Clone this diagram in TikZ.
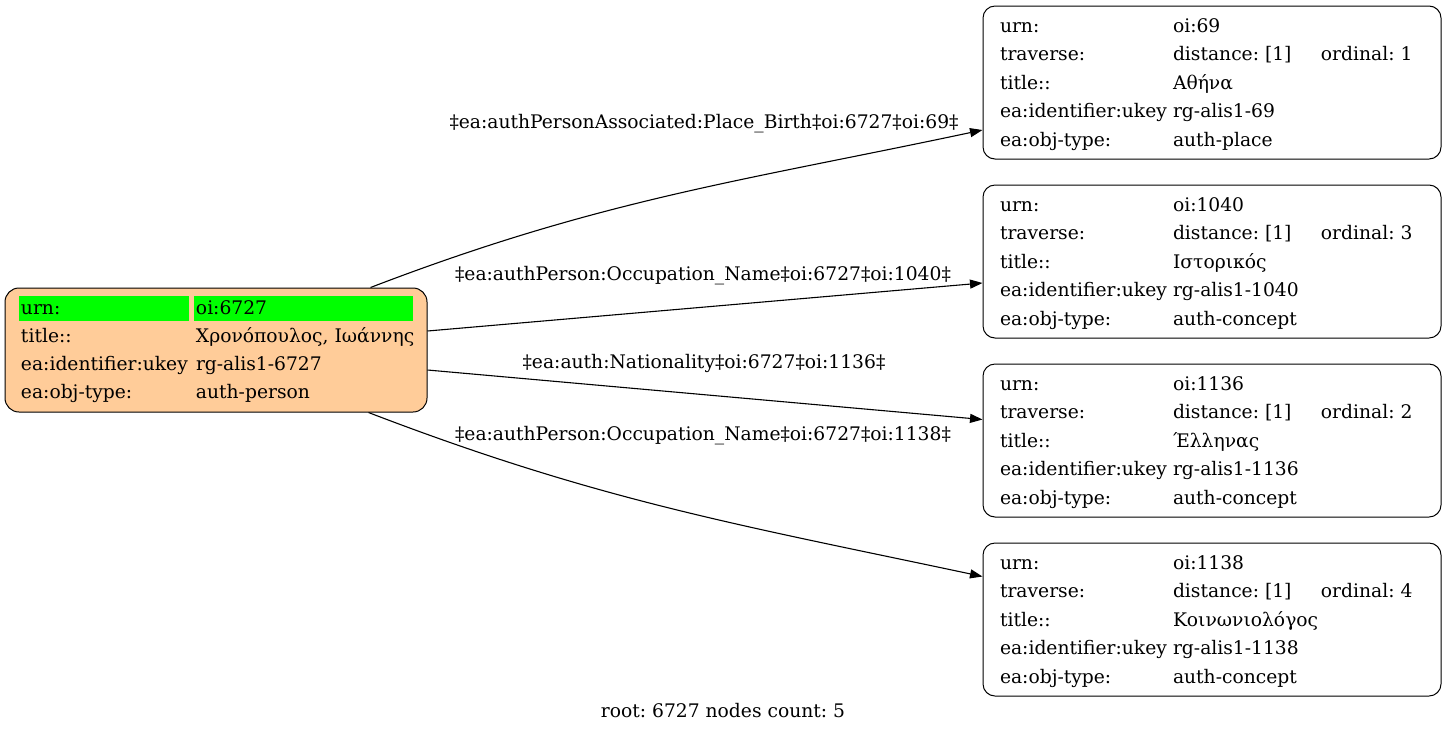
\documentclass[tikz,border=0pt]{standalone}
\usepackage{fontspec}
\setmainfont{DejaVu Serif}
\usepackage{array}
\usetikzlibrary{positioning,arrows.meta}
\frenchspacing

\definecolor{peach}{HTML}{FFCC99}
\definecolor{urngreen}{HTML}{00FF00}

\newcommand{\gvfont}{\fontsize{18.7pt}{22pt}\selectfont}
\newcommand{\rootstrut}{\rule[-7.2pt]{0pt}{28pt}}
\newcommand{\objstrut}{\rule[-7.4pt]{0pt}{28.4pt}}
\newcommand{\rootkey}[1]{\makebox[170pt][l]{\hspace{2pt}#1}}
\newcommand{\rootval}[1]{\makebox[219pt][l]{\hspace{2pt}#1}}
\newcommand{\greencell}[2]{{\setlength{\fboxsep}{0pt}\colorbox{urngreen}{\rule[-6pt]{0pt}{25pt}\makebox[#1][l]{\hspace{2pt}#2}}}}

% linked object table: urn number, ordinal, title, type
\newcommand{\objtable}[4]{%
\begin{tabular}{@{\hspace{17pt}}p{173pt}@{}p{148pt}@{}p{120pt}@{}}
\objstrut urn: & oi:#1 & \\
\objstrut traverse: & distance: [1] & ordinal: #2 \\
\objstrut title:: & #3 & \\
\objstrut ea:identifier:ukey & rg-alis1-#1 & \\
\objstrut ea:obj-type: & auth-#4 &
\end{tabular}}

\begin{document}
\begin{tikzpicture}[
    x=1pt, y=-1pt,
    node distance=25pt,
    every node/.style={font=\gvfont},
    rootbox/.style={draw, line width=1pt, rounded corners=14pt, fill=peach, inner sep=0pt, minimum width=422pt, minimum height=124pt},
    objbox/.style={draw, line width=1pt, rounded corners=12pt, fill=white, inner sep=0pt, minimum width=458pt, minimum height=153pt},
    edgelabel/.style={inner sep=0pt, anchor=base},
    arrow/.style={line width=1.1pt, -{Triangle[length=12.5pt,width=9pt]}}
]
\useasboundingbox (0,0) rectangle (1447,732);

% Root person
\node[rootbox] (person) at (216,350) {%
\begin{tabular}{@{\hspace{14pt}}l@{\hspace{5pt}}l@{\hspace{14pt}}}
\rootstrut\greencell{170pt}{urn:} & \greencell{219pt}{oi:6727} \\
\rootstrut\rootkey{title::} & \rootval{Χρονόπουλος, Ιωάννης} \\
\rootstrut\rootkey{ea:identifier:ukey} & \rootval{rg-alis1-6727} \\
\rootstrut\rootkey{ea:obj-type:} & \rootval{auth-person}
\end{tabular}};

% Linked objects
\node[objbox] (place69) at (1212,82.5) {\objtable{69}{1}{Αθήνα}{place}};
\node[objbox, below=of place69] (concept1040) {\objtable{1040}{3}{Ιστορικός}{concept}};
\node[objbox, below=of concept1040] (concept1136) {\objtable{1136}{2}{Έλληνας}{concept}};
\node[objbox, below=of concept1136] (concept1138) {\objtable{1138}{4}{Κοινωνιολόγος}{concept}};

% Edges
\draw[arrow] ([xshift=-57pt]person.north east) to[out=21, in=192] ([yshift=-47.5pt]place69.west);
\draw[arrow] ([yshift=19pt]person.east) -- ([yshift=-21.5pt]concept1040.west);
\draw[arrow] ([yshift=-20pt]person.east) -- ([yshift=21pt]concept1136.west);
\draw[arrow] ([xshift=-59pt]person.south east) to[out=-21, in=168] ([yshift=43pt]concept1138.west);

% Edge labels
\node[edgelabel] (lbl69) at (704,128) {‡ea:authPersonAssociated:Place\_Birth‡oi:6727‡oi:69‡};
\node[edgelabel] (lbl1040) at (703,280) {‡ea:authPerson:Occupation\_Name‡oi:6727‡oi:1040‡};
\node[edgelabel] (lbl1136) at (704,368) {‡ea:auth:Nationality‡oi:6727‡oi:1136‡};
\node[edgelabel] (lbl1138) at (703,440) {‡ea:authPerson:Occupation\_Name‡oi:6727‡oi:1138‡};

% Footer
\node[edgelabel] (footer) at (723,717) {root: 6727 nodes count: 5};

\end{tikzpicture}
\end{document}
